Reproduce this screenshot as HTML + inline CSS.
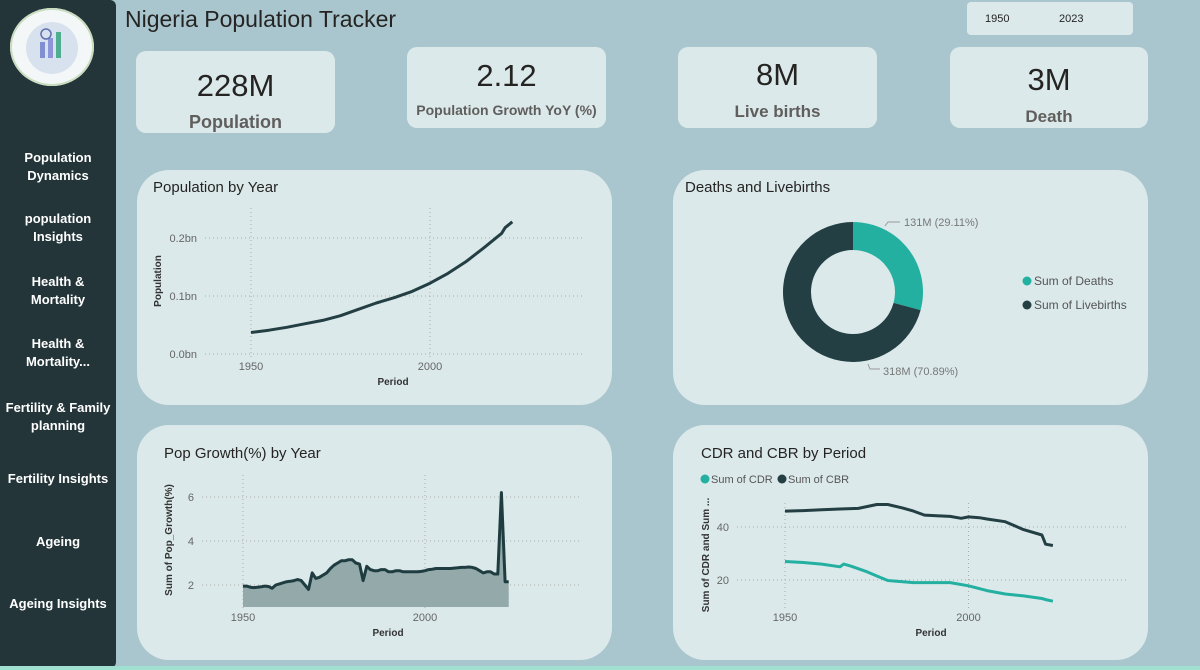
<!DOCTYPE html>
<html><head><meta charset="utf-8"><style>
body{margin:0;width:1200px;height:670px;background:#a9c5cd;font-family:"Liberation Sans","DejaVu Sans",sans-serif;position:relative;overflow:hidden}
.abs{position:absolute}
.side{left:0;top:0;width:116px;height:668px;background:#233539;border-radius:0 6px 6px 0}
.nav{position:absolute;left:0;width:116px;text-align:center;color:#fff;font-weight:bold;font-size:13px;line-height:18px}
.card{position:absolute;background:#dbe9ea;border-radius:10px;text-align:center}
.val{position:absolute;left:0;right:0;color:#252423;font-size:31px}
.lab{position:absolute;left:0;right:0;color:#605e5c;font-weight:bold}
.panel{position:absolute;background:#dbe9ea;border-radius:32px}
svg text{font-family:"Liberation Sans","DejaVu Sans",sans-serif}
</style></head><body>
<div class="abs side"></div>
<div class="abs" style="left:10px;top:8px;width:84px;height:78px;border-radius:50%;background:#f4f7f7;box-shadow:0 0 0 2px #c9dcc0 inset">
 <svg width="84" height="78"><circle cx="42" cy="40" r="26" fill="#d8e2ef"/><rect x="30" y="34" width="5" height="16" fill="#7f8fd0"/><rect x="38" y="30" width="5" height="20" fill="#8b95d8"/><rect x="46" y="24" width="5" height="26" fill="#4fae8f"/><circle cx="36" cy="26" r="5" fill="none" stroke="#6070b0" stroke-width="1.5"/></svg></div>
<div class="nav" style="top:149px">Population<br>Dynamics</div>
<div class="nav" style="top:210px">population<br>Insights</div>
<div class="nav" style="top:273px">Health &amp;<br>Mortality</div>
<div class="nav" style="top:335px">Health &amp;<br>Mortality...</div>
<div class="nav" style="top:399px">Fertility &amp; Family<br>planning</div>
<div class="nav" style="top:470px">Fertility Insights</div>
<div class="nav" style="top:533px">Ageing</div>
<div class="nav" style="top:595px">Ageing Insights</div>
<div class="abs" style="left:0;top:666px;width:1200px;height:4px;background:#9fe0d0"></div>

<div class="abs" style="left:125px;top:6px;font-size:23px;color:#252423;font-family:'Comic Sans MS','Liberation Sans',sans-serif">Nigeria Population Tracker</div>
<div class="abs" style="left:967px;top:2px;width:166px;height:33px;background:#dbe9ea;border-radius:4px;font-size:11px;color:#252423">
 <span class="abs" style="left:18px;top:11px">1950</span><span class="abs" style="left:92px;top:11px">2023</span></div>

<div class="card" style="left:136px;top:51px;width:199px;height:82px"><div class="val" style="top:17px">228M</div><div class="lab" style="top:61px;font-size:18px">Population</div></div>
<div class="card" style="left:407px;top:47px;width:199px;height:81px"><div class="val" style="top:11px">2.12</div><div class="lab" style="top:55px;font-size:14px">Population Growth YoY (%)</div></div>
<div class="card" style="left:678px;top:47px;width:199px;height:81px"><div class="val" style="top:10px">8M</div><div class="lab" style="top:55px;font-size:17px">Live births</div></div>
<div class="card" style="left:950px;top:47px;width:198px;height:81px"><div class="val" style="top:15px">3M</div><div class="lab" style="top:60px;font-size:17px">Death</div></div>

<div class="panel" style="left:137px;top:170px;width:475px;height:235px"></div>
<div class="panel" style="left:673px;top:170px;width:475px;height:235px"></div>
<div class="panel" style="left:137px;top:425px;width:475px;height:235px"></div>
<div class="panel" style="left:673px;top:425px;width:475px;height:235px"></div>

<svg id="chart" class="abs" style="left:0;top:0" width="1200" height="670"></svg>
<script>
const popYears=[1950,1955,1960,1965,1970,1975,1980,1985,1990,1995,2000,2005,2010,2015,2019,2020,2021,2022,2023];
const popValues=[0.037,0.041,0.046,0.052,0.058,0.066,0.077,0.088,0.097,0.108,0.122,0.139,0.159,0.183,0.203,0.208,0.218,0.223,0.228];
const popTicks=["0.0bn","0.1bn","0.2bn"];
const growthYears=[];for(let y=1950;y<=2023;y++)growthYears.push(y);
const growthValues=[1.95,1.95,1.9,1.88,1.9,1.92,1.95,1.93,1.85,2.0,2.05,2.1,2.15,2.17,2.2,2.25,2.2,2.0,1.8,2.55,2.3,2.35,2.45,2.55,2.75,2.9,3.0,3.1,3.1,3.15,3.15,3.0,2.95,2.2,2.85,2.7,2.65,2.65,2.7,2.7,2.6,2.6,2.65,2.65,2.6,2.6,2.6,2.6,2.6,2.62,2.65,2.7,2.72,2.75,2.75,2.75,2.75,2.75,2.77,2.78,2.8,2.8,2.82,2.8,2.75,2.65,2.55,2.6,2.6,2.5,2.5,6.2,2.15,2.15];
const growthTicks=[2,4,6];
const cbrYears=[1950,1955,1960,1965,1970,1975,1978,1982,1985,1988,1992,1995,1998,2000,2003,2005,2010,2015,2020,2021,2023];
const cbrValues=[46,46.2,46.5,46.8,47,48.5,48.5,47.2,46,44.5,44.2,44,43.3,43.8,43.5,43,42,39,37,33.5,33];
const cdrYears=[1950,1955,1960,1965,1966,1968,1972,1975,1978,1985,1990,1995,2000,2005,2010,2015,2020,2021,2023];
const cdrValues=[27,26.6,26,25,26,25.2,23.3,21.5,19.8,19,19,19,17.8,16,14.7,14,13,12.6,12];
const cdrTicks=[20,40];
const donutLabels=["Sum of Deaths","Sum of Livebirths"];
const donutValues=[131,318];
const donutPctLabels=["29.11%","70.89%"];
const xTickYears=[1950,2000];

const NS="http://www.w3.org/2000/svg",svg=document.getElementById('chart');
function mk(tag,attrs,parent){const e=document.createElementNS(NS,tag);for(const k in attrs)e.setAttribute(k,attrs[k]);(parent||svg).appendChild(e);return e;}
function txt(s,x,y,attrs){const t=mk('text',Object.assign({x:x,y:y},attrs));t.textContent=s;return t;}
function lineChart(o){
 const sx=v=>o.x0+(v-1950)*o.xs, sy=v=>o.y0-(v-o.v0)*o.ys;
 o.yTicks.forEach((t,i)=>{const val=o.tickVals[i];
  const g=mk('line',{x1:o.gx1,x2:o.gx2,y1:sy(val),y2:sy(val),stroke:'#aaa','stroke-dasharray':'1 3'});
  
  const l=txt(t,o.gx1-8,sy(val)+4,{'text-anchor':'end','font-size':11,fill:'#666'});
  });
 xTickYears.forEach(y=>{const g=mk('line',{x1:sx(y),x2:sx(y),y1:o.gTop,y2:o.gBot,stroke:'#aaa','stroke-dasharray':'1 3'});
  
  const l=txt(String(y),sx(y),o.xLabY,{'text-anchor':'middle','font-size':11,fill:'#666'});
  });
 o.series.forEach(s=>{const pts=s.x.map((x,i)=>sx(x).toFixed(1)+','+sy(s.y[i]).toFixed(1));
  if(s.area){const a=mk('polygon',{points:sx(s.x[0])+','+sy(s.base)+' '+pts.join(' ')+' '+sx(s.x[s.x.length-1])+','+sy(s.base),fill:'#93a9aa'});
   }
  const p=mk('polyline',{points:pts.join(' '),fill:'none',stroke:s.color,'stroke-width':3,'stroke-linejoin':'round'});
  });
 const xt=txt('Period',o.xTitleX,o.xLabY+15,{'text-anchor':'middle','font-size':10,'font-weight':'bold',fill:'#333'});
 
 const yt=txt(o.yTitle,0,0,{'text-anchor':'middle','font-size':10,'font-weight':'bold',fill:'#333',transform:'translate('+o.yTitleX+','+o.yTitleY+') rotate(-90)'});
 
 const ti=txt(o.title,o.titleX,o.titleY,{'font-size':15,fill:'#252423'});
 
}
lineChart({title:'Population by Year',titleX:153,titleY:192,x0:251,xs:3.58,y0:354,v0:0,ys:580,yTicks:popTicks,tickVals:[0,0.1,0.2],gx1:205,gx2:582,gTop:208,gBot:358,xLabY:370,xTitleX:393,yTitle:'Population',yTitleX:161,yTitleY:281,
 series:[{x:popYears,y:popValues,color:'#233f44',name:'population-line'}]});
lineChart({title:'Pop Growth(%) by Year',titleX:164,titleY:458,x0:243,xs:3.64,y0:585,v0:2,ys:22,yTicks:growthTicks.map(String),tickVals:growthTicks,gx1:202,gx2:580,gTop:475,gBot:608,xLabY:621,xTitleX:388,yTitle:'Sum of Pop_Growth(%)',yTitleX:172,yTitleY:540,
 series:[{x:growthYears,y:growthValues,color:'#1f3d40',name:'growth-line',area:true,base:1}]});
lineChart({title:'CDR and CBR by Period',titleX:701,titleY:458,x0:785,xs:3.67,y0:580,v0:20,ys:2.65,yTicks:cdrTicks.map(String),tickVals:cdrTicks,gx1:737,gx2:1127,gTop:503,gBot:608,xLabY:621,xTitleX:931,yTitle:'Sum of CDR and Sum ...',yTitleX:709,yTitleY:555,
 series:[{x:cbrYears,y:cbrValues,color:'#233f44',name:'cbr-line'},{x:cdrYears,y:cdrValues,color:'#23b0a0',name:'cdr-line'}]});
[['Sum of CDR',705,'#23b0a0'],['Sum of CBR',782,'#233f44']].forEach(l=>{const c=mk('circle',{cx:l[1],cy:479,r:4.5,fill:l[2]});
 
 const t=txt(l[0],l[1]+6,483,{'font-size':11,fill:'#555'});});
const dt=txt('Deaths and Livebirths',685,192,{'font-size':15,fill:'#252423'});
const cx=853,cy=292,R=70,r=42,tot=donutValues.reduce((a,b)=>a+b,0),cols=['#23b0a0','#233f44'];let a0=-Math.PI/2;
donutValues.forEach((v,i)=>{const a1=a0+v/tot*2*Math.PI,lg=(a1-a0)>Math.PI?1:0;
 const P=(rr,a)=>(cx+rr*Math.cos(a)).toFixed(2)+' '+(cy+rr*Math.sin(a)).toFixed(2);
 const p=mk('path',{d:'M'+P(R,a0)+' A'+R+' '+R+' 0 '+lg+' 1 '+P(R,a1)+' L'+P(r,a1)+' A'+r+' '+r+' 0 '+lg+' 0 '+P(r,a0)+' Z',fill:cols[i]});
 
 const lc=mk('circle',{cx:1027,cy:281+i*24,r:4.5,fill:cols[i]});
 const lt=txt(donutLabels[i],1034,285+i*24,{'font-size':12,fill:'#555'});
 a0=a1;});
const l1=mk('polyline',{points:'885,226 888,222 900,222',fill:'none',stroke:'#999'});
const d1=txt(donutValues[0]+'M ('+donutPctLabels[0]+')',904,226,{'font-size':11,fill:'#777'});
const l2=mk('polyline',{points:'868,364 870,369 880,369',fill:'none',stroke:'#999'});
const d2=txt(donutValues[1]+'M ('+donutPctLabels[1]+')',883,375,{'font-size':11,fill:'#777'});
</script>
</body></html>
